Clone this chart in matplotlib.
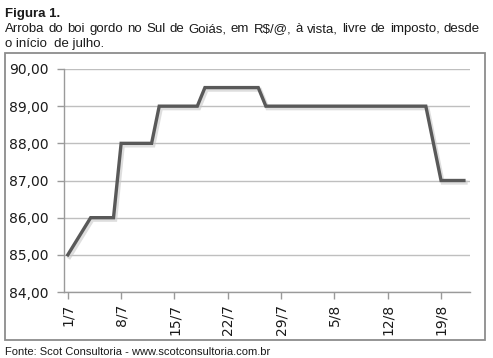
import matplotlib.pyplot as plt
import matplotlib.patheffects as pe
from matplotlib.patches import Rectangle

# ------------------------------------------------------------
# Data
# ------------------------------------------------------------
dates = ["1/7", "4/7", "7/7", "8/7", "12/7", "13/7", "18/7", "19/7",
         "26/7", "27/7", "17/8", "19/8", "22/8"]
prices = [85.0, 86.0, 86.0, 88.0, 88.0, 89.0, 89.0, 89.5,
          89.5, 89.0, 89.0, 87.0, 87.0]

tick_labels = ["1/7", "8/7", "15/7", "22/7", "29/7", "5/8", "12/8", "19/8"]
y_ticks = [84, 85, 86, 87, 88, 89, 90]


def day_index(label):
    """Days since 1 July."""
    d, m = (int(v) for v in label.split("/"))
    return d - 1 if m == 7 else 30 + d


W, H = 493, 358
fig = plt.figure(figsize=(W / 100, H / 100), dpi=100)
plt.rcParams["font.family"] = ["DejaVu Sans"]


def px(x, y):
    return x / W, 1 - y / H


# outer chart frame
fig.patches.append(Rectangle(px(5, 340), 480 / W, 287 / H,
                             transform=fig.transFigure, fill=False,
                             edgecolor="#8c8c8c", linewidth=1.3))

# title block
txt = dict(family="Liberation Sans", va="baseline", color="#1a1a1a")
fig.text(*px(5, 17), "Figura 1.", fontsize=9.5, fontweight="bold", **txt)
words = ["Arroba", "do", "boi", "gordo", "no", "Sul", "de", "Goiás,", "em", "R$/@,",
         "à", "vista,", "livre", "de", "imposto,", "desde"]
# justified line: spread the words between x=5 and x=480
line = fig.text(*px(5, 32), " ".join(words), fontsize=9.5, **txt)
fig.canvas.draw()
r = fig.canvas.get_renderer()
widths = []
for w in words:
    t = fig.text(0, 0, w, fontsize=9.5, **txt)
    widths.append(t.get_window_extent(r).width)
    t.remove()
line.remove()
gap = (475 - sum(widths)) / (len(words) - 1)
xpos = 5
for w, wd in zip(words, widths):
    fig.text(*px(xpos, 32), w, fontsize=9.5, **txt)
    xpos += wd + gap
fig.text(*px(5, 47), "o início  de julho.", fontsize=9.5, **txt)
fig.text(*px(5, 355), "Fonte: Scot Consultoria - www.scotconsultoria.com.br",
         fontsize=8, **txt)

# plot area
ax = fig.add_axes([64 / W, (H - 292) / H, (470 - 64) / W, (292 - 69) / H])
x = [day_index(d) for d in dates]
ax.plot(x, prices, color="#595959", linewidth=2.4, solid_joinstyle="miter",
        path_effects=[pe.SimpleLineShadow(offset=(1.2, -1.5), shadow_color="#c8c8c8",
                                          alpha=0.6, linewidth=3.0),
                      pe.Normal()], zorder=3)

ax.set_ylim(84, 90)
ax.set_yticks(y_ticks)
ax.set_yticklabels([f"{v:.2f}".replace(".", ",") for v in y_ticks])
ax.set_xlim(-0.5, 52.8)
ax.set_xticks([day_index(t) for t in tick_labels])
ax.set_xticklabels(tick_labels, rotation=90)

ax.grid(axis="y", color="#bfbfbf", linewidth=1)
ax.set_axisbelow(True)
for side in ("top", "right"):
    ax.spines[side].set_visible(False)
for side in ("left", "bottom"):
    ax.spines[side].set_color("#9a9a9a")
    ax.spines[side].set_linewidth(1)
ax.tick_params(axis="both", colors="#9a9a9a", labelcolor="#1a1a1a",
               labelsize=10, length=5, width=1)
ax.tick_params(axis="y", pad=6)

fig.savefig("out.png", dpi=100)
